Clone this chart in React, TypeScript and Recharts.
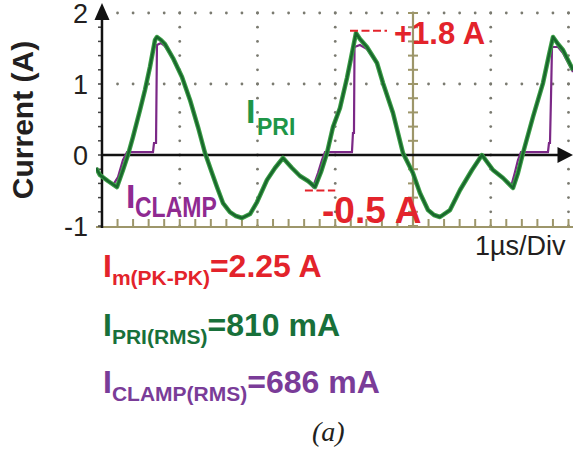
import { LineChart, Line, XAxis, YAxis, ReferenceLine } from 'recharts';

// time in µs (1 µs/div), current in A
const ipriTime = [
  -0.077, -0.026, 0.077, 0.193, 0.27, 0.334, 0.399, 0.489, 0.553, 0.617, 0.682, 0.707, 0.759, 0.81,
  0.913, 1.029, 1.132, 1.235, 1.325, 1.415, 1.479, 1.556, 1.646, 1.723, 1.801, 1.904, 1.994, 2.122,
  2.225, 2.328, 2.444, 2.547, 2.65, 2.74, 2.817, 2.894, 2.971, 3.061, 3.151, 3.203, 3.267, 3.318,
  3.408, 3.537, 3.614, 3.743, 3.871, 3.999, 4.09, 4.193, 4.27, 4.347, 4.476, 4.605, 4.759, 4.887,
  5.029, 5.158, 5.286, 5.35, 5.415, 5.543, 5.672, 5.749, 5.801, 5.865, 5.929, 6.058,
];
const ipriAmps = [
  -0.183, -0.282, -0.366, -0.451, -0.211, 0, 0.254, 0.634, 0.915, 1.239, 1.62, 1.662, 1.62, 1.563,
  1.366, 1.099, 0.775, 0.394, 0.028, -0.254, -0.451, -0.676, -0.803, -0.859, -0.887, -0.831, -0.662, -0.352,
  -0.183, -0.042, -0.183, -0.296, -0.366, -0.451, -0.239, 0.028, 0.394, 0.662, 1.085, 1.366, 1.718, 1.634,
  1.521, 1.296, 1.014, 0.592, 0.028, -0.254, -0.535, -0.775, -0.845, -0.873, -0.775, -0.493, -0.211, 0,
  -0.211, -0.324, -0.465, -0.254, 0.028, 0.535, 1.014, 1.408, 1.662, 1.563, 1.479, 1.197,
];

const clampTime = [
  -0.077, -0.026, 0.077, 0.141, 0.206, 0.27, 0.322, 0.656, 0.669, 0.695, 0.707, 0.759, 0.81,
  0.913, 1.029, 1.132, 1.235, 1.325, 1.415, 1.479, 1.556, 1.646, 1.723, 1.801, 1.904, 1.994, 2.122,
  2.225, 2.328, 2.444, 2.547, 2.65, 2.714, 2.778, 2.83, 2.868, 3.215, 3.228, 3.241, 3.248, 3.318, 3.408,
  3.537, 3.614, 3.743, 3.871, 3.999, 4.09, 4.193, 4.27, 4.347, 4.476, 4.605, 4.759, 4.887, 5.029, 5.158,
  5.26, 5.312, 5.35, 5.389, 5.736, 5.749, 5.762, 5.775, 5.788, 5.865, 5.929, 6.058,
];
const clampAmps = [
  -0.183, -0.282, -0.366, -0.423, -0.31, -0.07, 0.04, 0.04, 0.169, 0.169, 1.549, 1.577, 1.535,
  1.366, 1.099, 0.775, 0.394, 0.028, -0.254, -0.451, -0.676, -0.803, -0.859, -0.887, -0.831, -0.662, -0.352,
  -0.183, -0.042, -0.183, -0.296, -0.366, -0.451, -0.254, -0.07, 0.04, 0.04, 0.31, 0.31, 1.521, 1.549, 1.493,
  1.296, 1.014, 0.592, 0.028, -0.254, -0.535, -0.775, -0.845, -0.873, -0.775, -0.493, -0.211, 0, -0.211, -0.324,
  -0.451, -0.239, -0.07, 0.04, 0.04, 0.169, 0.169, 0.817, 1.521, 1.521, 1.437, 1.169,
];

const yTicks = [-1, 0, 1, 2];
const gridTimes = [1, 2, 3, 5, 6];
const gridAmps = [1, 2];
const peakMark = 1.75;
const valleyMark = -0.5;

const ipriData = ipriTime.map((t, i) => ({ t, v: ipriAmps[i] }));
const clampData = clampTime.map((t, i) => ({ t, v: clampAmps[i] }));

const SANS = "'Liberation Sans', Arial, sans-serif";
const KHAKI = '#9d966a';
const DOT = '#7a7a70';

// whole dotted graticule, drawn from a segment spanning (0,-1) -> (6,2)
const Graticule = (p: any) => {
  const { x1, y1, x2, y2 } = p;
  const px = (t: number) => x1 + ((x2 - x1) * t) / 6;
  const py = (v: number) => y1 + ((y2 - y1) * (v + 1)) / 3;
  const dots: any[] = [];
  gridAmps.forEach((a) => {
    for (let i = 1; i <= 30; i++) {
      dots.push(<circle key={`r${a}-${i}`} cx={px(i / 5)} cy={py(a)} r={1.4} fill={DOT} />);
    }
  });
  gridTimes.forEach((t) => {
    for (let i = 0; i <= 15; i++) {
      dots.push(<circle key={`c${t}-${i}`} cx={px(t)} cy={py(-1 + i / 5)} r={1.4} fill={DOT} />);
    }
  });
  return <g>{dots}</g>;
};

const CenterLine = (p: any) => {
  const { x1, y1, y2 } = p;
  const ticks = [];
  for (let i = 0; i <= 15; i++) {
    const y = y1 + ((y2 - y1) * i) / 15;
    ticks.push(<line key={i} x1={x1 - 5} x2={x1 + 5} y1={y} y2={y} stroke={KHAKI} strokeWidth={2} />);
  }
  return (
    <g>
      <line x1={x1} x2={x1} y1={y1} y2={y2} stroke={KHAKI} strokeWidth={2.2} />
      {ticks}
    </g>
  );
};

const BottomAxis = (p: any) => {
  const { x1, x2, y1 } = p;
  const ticks = [];
  for (let i = 0; i <= 30; i++) {
    const x = x1 + ((x2 - x1) * i) / 30;
    ticks.push(<line key={i} x1={x} x2={x} y1={y1 - 7} y2={y1} stroke={KHAKI} strokeWidth={2} />);
  }
  return (
    <g>
      <line x1={x1 - 6} x2={x2 + 5} y1={y1 + 1} y2={y1 + 1} stroke={KHAKI} strokeWidth={2.2} />
      {ticks}
    </g>
  );
};

const LeftAxis = (p: any) => {
  const { x1, y1, y2 } = p;
  const ticks = [];
  for (let i = 0; i <= 15; i++) {
    const y = y1 + ((y2 - y1) * i) / 15;
    ticks.push(<line key={i} x1={x1 - 4} x2={x1} y1={y} y2={y} stroke="#444" strokeWidth={1.5} />);
  }
  return (
    <g>
      {ticks}
      <line x1={x1} x2={x1} y1={y1 + 2} y2={y2 + 2} stroke="#111" strokeWidth={2.5} />
      <polygon points={`${x1 - 7.5},${y2 + 7} ${x1 + 7.5},${y2 + 7} ${x1},${y2 - 10}`} fill="#111" />
    </g>
  );
};

const ZeroAxis = (p: any) => {
  const { x1, x2, y1 } = p;
  return (
    <g>
      <line x1={x1} x2={x2 - 8} y1={y1} y2={y1} stroke="#111" strokeWidth={2.5} />
      <polygon points={`${x2 - 11},${y1 - 8} ${x2 - 11},${y1 + 8} ${x2 + 4.5},${y1}`} fill="#111" />
    </g>
  );
};

export default function App() {
  return (
    <div style={{ position: 'absolute', left: 0, top: 0, width: 573, height: 454, background: '#fff' }}>
      <LineChart width={573} height={454} data={ipriData} margin={{ top: 2, right: 0, bottom: 226, left: 36 }}>
        <XAxis dataKey="t" type="number" domain={[-0.077, 6.058]} allowDataOverflow hide />
        <YAxis
          type="number"
          domain={[-1.028, 2.155]}
          allowDataOverflow
          ticks={yTicks}
          width={60}
          axisLine={false}
          tickLine={false}
          tickSize={6}
          tickMargin={2}
          interval={0}
          tick={{ fontSize: 27, fill: '#231f20', fontFamily: SANS }}
        />
        <ReferenceLine segment={[{ x: 0, y: -1 }, { x: 6, y: 2 }]} ifOverflow="visible" shape={Graticule} />
        <ReferenceLine segment={[{ x: 4, y: -1 }, { x: 4, y: 2 }]} ifOverflow="visible" shape={CenterLine} />
        <ReferenceLine segment={[{ x: 0, y: -1 }, { x: 6, y: -1 }]} ifOverflow="visible" shape={BottomAxis} />
        <ReferenceLine segment={[{ x: 0, y: 0 }, { x: 6, y: 0 }]} ifOverflow="visible" shape={ZeroAxis} />
        <ReferenceLine segment={[{ x: 0, y: -1 }, { x: 0, y: 2 }]} ifOverflow="visible" shape={LeftAxis} />
        <Line
          data={clampData}
          dataKey="v"
          type="linear"
          stroke="#7b2886"
          strokeWidth={2.2}
          dot={false}
          activeDot={false}
          isAnimationActive={false}
        />
        <Line
          data={ipriData}
          dataKey="v"
          type="linear"
          stroke="#3c9f46"
          strokeWidth={4.5}
          strokeLinejoin="round"
          dot={false}
          activeDot={false}
          isAnimationActive={false}
        />
        <Line
          data={ipriData}
          dataKey="v"
          type="linear"
          stroke="#19672d"
          strokeWidth={2.4}
          strokeLinejoin="round"
          dot={false}
          activeDot={false}
          isAnimationActive={false}
        />
        <ReferenceLine
          segment={[{ x: 3.19, y: peakMark }, { x: 3.666, y: peakMark }]}
          ifOverflow="visible"
          stroke="#e3232b"
          strokeWidth={2}
          strokeDasharray="8 3.5"
        />
        <ReferenceLine
          segment={[{ x: 2.61, y: valleyMark }, { x: 3.0, y: valleyMark }]}
          ifOverflow="visible"
          stroke="#e3232b"
          strokeWidth={2}
          strokeDasharray="8 3.5"
        />
      </LineChart>
      <svg width={573} height={454} style={{ position: 'absolute', left: 0, top: 0, pointerEvents: 'none' }}>
        <text
          transform="translate(33,120) rotate(-90)"
          textAnchor="middle"
          fontFamily={SANS}
          fontWeight="bold"
          fontSize={30}
          fill="#231f20"
        >
          Current (A)
        </text>
        <g fontFamily={SANS} fontWeight="bold">
          <text x={246} y={123} fontSize={34} fill="#1e9648">I</text>
          <text x={257} y={135} fontSize={23} fill="#1e9648">PRI</text>
          <text x={126} y={208} fontSize={34} fill="#8f2a91">I</text>
          <text transform="translate(135,217) scale(1,1.3)" fontSize={23} fill="#8f2a91">CLAMP</text>
          <text x={394} y={44} fontSize={31} fill="#e3232b">+1.8 A</text>
          <text x={322} y={223} fontSize={37} fill="#e3232b">-0.5 A</text>
          <text x={103} y={277} fontSize={32} fill="#e3232b">
            I<tspan fontSize={21} dy={8}>m(PK-PK)</tspan>
            <tspan dy={-8}>=2.25 A</tspan>
          </text>
          <text x={103} y={336} fontSize={32} fill="#18703a">
            I<tspan fontSize={21} dy={8}>PRI(RMS)</tspan>
            <tspan dy={-8}>=810 mA</tspan>
          </text>
          <text x={103} y={393} fontSize={32} fill="#7a3c98">
            I<tspan fontSize={21} dy={8}>CLAMP(RMS)</tspan>
            <tspan dy={-8}>=686 mA</tspan>
          </text>
        </g>
        <text x={475} y={255} fontFamily={SANS} fontSize={27} fill="#231f20">1µs/Div</text>
        <text x={312} y={441} fontFamily="'Liberation Serif', 'Times New Roman', serif" fontStyle="italic" fontSize={28} fill="#231f20">
          (a)
        </text>
      </svg>
    </div>
  );
}
